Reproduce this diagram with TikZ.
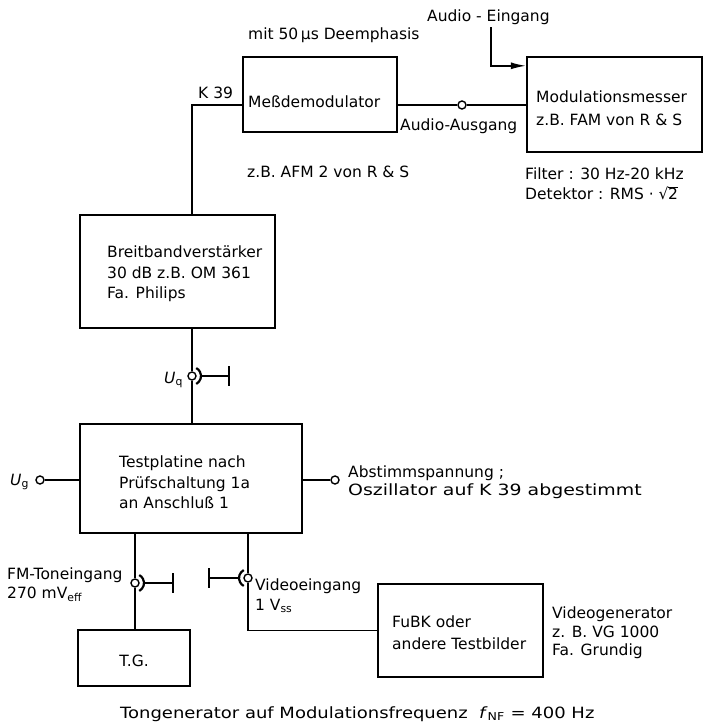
\documentclass[tikz,border=0pt]{standalone}
\usepackage{fontspec}
\setmainfont{DejaVu Sans}
\usetikzlibrary{arrows.meta}
% square root set with the text font: radical glyph plus a vinculum rule
\newcommand{\txtroot}[1]{√\kern-0.4pt\rlap{\rule[11.3pt]{9.6pt}{0.9pt}}#1}
\begin{document}
\begin{tikzpicture}[x=1pt,y=-1pt,
  box/.style={draw,line width=2.4pt,inner sep=0pt},
  wire/.style={line width=1.4pt},
  plug/.style={line width=2.2pt},
  lbl/.style={inner sep=0pt,anchor=base west,font=\fontsize{15.5}{20}\selectfont},
  jack/.style={circle,draw,line width=1.4pt,minimum size=8pt,inner sep=0pt,fill=white}]
\useasboundingbox (0,0) rectangle (708,728);

% --- blocks
\node[box,minimum width=154pt,minimum height=75pt] (dem)  at (320,94.5) {};
\node[box,minimum width=175pt,minimum height=95pt] (mod)  at (614.5,104.5) {};
\node[box,minimum width=195pt,minimum height=113pt] (bb)  at (177.5,271.5) {};
\node[box,minimum width=222pt,minimum height=109pt] (tp)  at (191,478.5) {};
\node[box,minimum width=112pt,minimum height=56pt] (tg)   at (134,658) {};
\node[box,minimum width=165pt,minimum height=93pt] (fubk) at (460.5,630.5) {};

% --- jacks and free ends
\node[jack] (aus) at (462,105) {};
\node[jack] (uq)  at (192,376) {};
\node[jack] (ug)  at (40,480) {};
\node[jack] (ab)  at (335,480) {};
\node[jack] (fm)  at (135,583) {};
\node[jack] (vid) at (248,578) {};
\coordinate (ein)   at (491,27);
\coordinate (uqbar) at (229,376);
\coordinate (fmbar) at (173,583);
\coordinate (vidbar) at (209,578);

% --- connections
\draw[wire] (dem.west |- aus) -| (bb.north -| uq);
\draw[wire] (dem.east |- aus) -- (aus) -- (mod.west |- aus);
\draw[wire,-{Latex[length=15pt,width=7pt]}] (ein) |- ([yshift=-10pt]mod.north west);
\draw[wire] (bb.south -| uq) -- (uq) -- (tp.north -| uq);
\draw[wire] (ug) -- (tp.west |- ug);
\draw[wire] (tp.east |- ab) -- (ab);
\draw[wire] (tp.south -| fm) -- (fm) -- (tg.north -| fm);
\draw[wire] (tp.south -| vid) -- (vid) |- (fubk.west);

% --- coaxial plugs
\draw[plug] (uq.center) ++(-62:9pt) arc[start angle=-62,end angle=62,radius=9pt];
\draw[wire] ([xshift=9pt]uq.center) -- (uqbar);
\draw[wire] ([yshift=10pt]uqbar) -- ([yshift=-10pt]uqbar);
\draw[plug] (fm.center) ++(-62:9pt) arc[start angle=-62,end angle=62,radius=9pt];
\draw[wire] ([xshift=9pt]fm.center) -- (fmbar);
\draw[wire] ([yshift=10pt]fmbar) -- ([yshift=-10pt]fmbar);
\draw[plug] (vid.center) ++(118:9pt) arc[start angle=118,end angle=242,radius=9pt];
\draw[wire] ([xshift=-9pt]vid.center) -- (vidbar);
\draw[wire] ([yshift=10pt]vidbar) -- ([yshift=-10pt]vidbar);

% --- labels
\node[lbl] (t1) at (427,21) {Audio - Eingang};
\node[lbl] (t2) at (248,39) {mit 50\,µs Deemphasis};
\node[lbl] (t3) at (198,98) {K 39};
\node[lbl] (t4) at (248,107) {Meßdemodulator};
\node[lbl] (t5) at (400,130) {Audio-Ausgang};
\node[lbl] (t6) at (536,102) {Modulationsmesser};
\node[lbl] (t7) at (536,125) {z.B. FAM von R \& S};
\node[lbl] (t8) at (247,177) {z.B. AFM 2 von R \& S};
\node[lbl] (t9) at (525,179) {Filter : 30 Hz-20 kHz};
\node[lbl] (t10) at (525,199) {Detektor : RMS · \txtroot{2}};

\node[lbl] (t11) at (107,257) {Breitbandverstärker};
\node[lbl] (t12) at (107,278) {30 dB z.B. OM 361};
\node[lbl] (t13) at (107,298) {Fa. Philips};

\node[lbl] (t14) at (164,383) {\textit{U}\textsubscript{q}};

\node[lbl] (t15) at (119,467) {Testplatine nach};
\node[lbl] (t16) at (119,488) {Prüfschaltung 1a};
\node[lbl] (t17) at (119,508) {an Anschluß 1};
\node[lbl] (t18) at (10,485) {\textit{U}\textsubscript{g}};
\node[lbl] (t19) at (348,477) {Abstimmspannung ;};
\node[lbl] (t20) at (348,495) {\scalebox{1.22}[1]{Oszillator auf K 39 abgestimmt}};

\node[lbl] (t21) at (7,579) {FM-Toneingang};
\node[lbl] (t22) at (7,598) {270 mV\textsubscript{eff}};
\node[lbl] (t23) at (255,590) {Videoeingang};
\node[lbl] (t24) at (255,610) {1 V\textsubscript{ss}};

\node[lbl] (t25) at (392,627) {FuBK oder};
\node[lbl] (t26) at (392,649) {andere Testbilder};
\node[lbl] (t27) at (552,618) {Videogenerator};
\node[lbl] (t28) at (552,637) {z. B. VG 1000};
\node[lbl] (t29) at (552,655) {Fa. Grundig};

\node[lbl,anchor=base] (t30) at (134,666) {T.G.};
\node[lbl] (t31) at (120,718) {\scalebox{1.16}[1]{Tongenerator auf Modulationsfrequenz \ \textit{f}\textsubscript{NF} = 400 Hz}};
\end{tikzpicture}
\end{document}
